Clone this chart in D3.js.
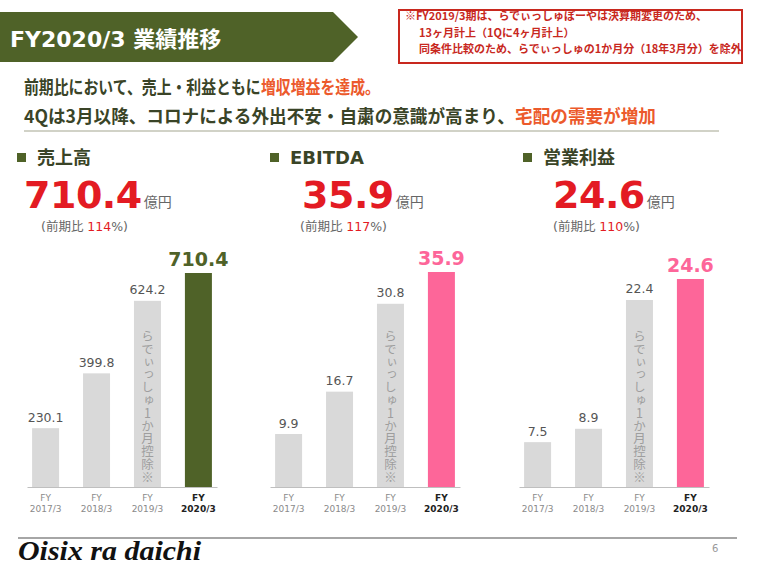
<!DOCTYPE html>
<html><head><meta charset="utf-8">
<script src="https://cdn.jsdelivr.net/npm/d3@7/dist/d3.min.js"></script>
<style>
html,body{margin:0;padding:0;background:#fff;}
svg{display:block;}
</style></head>
<body>
<svg id="chart" width="762" height="568"></svg>
<script>
// ---------- data ----------
const categoriesTop = ["FY", "FY", "FY", "FY"];
const categoriesYear = ["2017/3", "2018/3", "2019/3", "2020/3"];
const salesValues = [230.1, 399.8, 624.2, 710.4];
const ebitdaValues = [9.9, 16.7, 30.8, 35.9];
const opProfitValues = [7.5, 8.9, 22.4, 24.6];
const metricNames = ["売上高", "EBITDA", "営業利益"];
const headlineValues = ["710.4", "35.9", "24.6"];
const yoyRatios = ["114", "117", "110"];
const scaleFloors = [48, 1.4, 2.8];
const noteVertical = "らでぃっしゅ1か月控除※";
const titleText = "FY2020/3 業績推移";
const noteLines = ["※FY2019/3期は、らでぃっしゅぼーやは決算期変更のため、",
                   "13ヶ月計上（1Qに4ヶ月計上）",
                   "同条件比較のため、らでぃっしゅの1か月分（18年3月分）を除外"];
const subtitleLine1 = ["前期比において、売上・利益ともに", "増収増益を達成。"];
const subtitleLine2 = ["4Qは3月以降、コロナによる外出不安・自粛の意識が高まり、", "宅配の需要が増加"];

// ---------- drawing ----------
const svg = d3.select("#chart");
const LAT = "'DejaVu Sans','Noto Sans CJK JP',sans-serif";
const CJK = "'Noto Sans CJK JP','DejaVu Sans',sans-serif";
const olive = "#4f6228", pink = "#fd6699", textDark = "#3a4427", red = "#e31b23";

// title banner
svg.append("path")
  .attr("d", "M0,12 L333,12 L358,37 L333,62 L0,62 Z")
  .attr("fill", olive);
svg.append("text").attr("x", 10).attr("y", 47)
  .attr("fill", "#fff").attr("font-family", LAT).attr("font-weight", "bold")
  .attr("font-size", 22).text(titleText);

// note box
svg.append("rect").attr("x", 399).attr("y", 10).attr("width", 343).attr("height", 53)
  .attr("fill", "#fff").attr("stroke", "#c8281e").attr("stroke-width", 2);
noteLines.forEach((t, i) => {
  svg.append("text").attr("x", i === 0 ? 405 : 419).attr("y", 20 + i * 16.5)
    .attr("fill", "#c8281e").attr("font-family", CJK).attr("font-weight", "bold")
    .attr("font-size", 11).text(t);
});

// subtitle: two coloured parts per line, horizontally scaled to a target width
function fittedLine(parts, y, targetW) {
  const grp = svg.append("g");
  let x0 = 0;
  const els = parts.map((t, i) => {
    const e = grp.append("text").attr("x", x0).attr("y", 0)
      .attr("font-family", CJK).attr("font-weight", "bold").attr("font-size", 18)
      .attr("fill", i === 0 ? textDark : "#ec5a2c").text(t);
    x0 += e.node().getComputedTextLength();
    return e;
  });
  grp.attr("transform", `translate(24,${y}) scale(${targetW / x0},1)`);
}
fittedLine(subtitleLine1, 94, 356);
fittedLine(subtitleLine2, 123, 632);
svg.append("line").attr("x1", 24).attr("x2", 719).attr("y1", 131).attr("y2", 131)
  .attr("stroke", "#a3a58f").attr("stroke-width", 1);

// panels
const panels = [
  {values: salesValues, hx: 17, nx: 24, px: 41, cx: 0, hl: olive},
  {values: ebitdaValues, hx: 270, nx: 302, px: 300, cx: 243, hl: pink},
  {values: opProfitValues, hx: 523, nx: 553, px: 553, cx: 492, hl: pink}
];
const topY = [273, 272, 279];

panels.forEach((p, k) => {
  const g = svg.append("g");
  // header
  g.append("rect").attr("x", p.hx).attr("y", 153).attr("width", 9).attr("height", 9).attr("fill", olive);
  g.append("text").attr("x", p.hx + 20).attr("y", 164)
    .attr("font-family", LAT).attr("font-weight", "bold").attr("font-size", 18)
    .attr("fill", textDark).text(metricNames[k]);
  // headline number
  const hn = g.append("text").attr("x", p.nx).attr("y", 208)
    .attr("font-family", LAT).attr("font-weight", "bold").attr("font-size", 38).attr("fill", red)
    .attr("letter-spacing", -0.5)
    .text(headlineValues[k]);
  const w = hn.node().getComputedTextLength();
  g.append("text").attr("x", p.nx + w + 2).attr("y", 207)
    .attr("font-family", CJK).attr("font-size", 14).attr("fill", "#666").text("億円");
  const yy = g.append("text").attr("x", p.px).attr("y", 231)
    .attr("font-family", LAT).attr("font-size", 12.5).attr("fill", "#666");
  yy.append("tspan").text("(前期比 ");
  yy.append("tspan").attr("fill", red).text(yoyRatios[k]);
  yy.append("tspan").text("%)");

  // chart
  const x = d3.scaleBand().domain(categoriesYear).range([27 + p.cx, 217 + p.cx])
    .paddingInner(0.47).paddingOuter(0.1);
  const y = d3.scaleLinear().domain([scaleFloors[k], d3.max(p.values)]).range([487, topY[k]]);
  const last = p.values.length - 1;

  g.selectAll("rect.bar").data(p.values).join("rect").attr("class", "bar")
    .attr("x", (d, i) => x(categoriesYear[i]))
    .attr("width", x.bandwidth())
    .attr("y", d => y(d))
    .attr("height", d => 487 - y(d))
    .attr("fill", (d, i) => i === last ? p.hl : "#d9d9d9");

  // axis
  const axis = d3.axisBottom(x).tickSize(0).tickFormat("");
  const ag = g.append("g").attr("transform", "translate(0,487)").call(axis);
  ag.select(".domain").attr("stroke", "#bfbfbf").attr("stroke-width", 1);

  categoriesYear.forEach((c, i) => {
    const cxm = x(c) + x.bandwidth() / 2;
    const isLast = i === last;
    [categoriesTop[i], c].forEach((t, j) => {
      g.append("text").attr("x", cxm).attr("y", 501 + j * 11).attr("text-anchor", "middle")
        .attr("font-family", LAT).attr("font-size", 9)
        .attr("font-weight", isLast ? "bold" : "normal")
        .attr("fill", isLast ? "#222" : "#8a8a8a").text(t);
    });
  });

  // value labels
  p.values.forEach((v, i) => {
    const cxm = x(categoriesYear[i]) + x.bandwidth() / 2;
    if (i === last) {
      g.append("text").attr("x", cxm).attr("y", y(v) - 7).attr("text-anchor", "middle")
        .attr("font-family", LAT).attr("font-weight", "bold").attr("font-size", 19)
        .attr("fill", p.hl).text(d3.format(".1f")(v));
    } else {
      g.append("text").attr("x", cxm).attr("y", y(v) - 6.5).attr("text-anchor", "middle")
        .attr("font-family", LAT).attr("font-size", 12.5)
        .attr("fill", "#555").text(d3.format(".1f")(v));
    }
  });

  // vertical note in FY2019/3 bar
  const nb = x(categoriesYear[2]) + x.bandwidth() / 2;
  g.append("text").attr("x", nb).attr("y", 330)
    .attr("font-family", CJK).attr("font-size", 12.5).attr("fill", "#9e9e9e")
    .attr("letter-spacing", 0.3)
    .style("writing-mode", "vertical-rl").style("text-orientation", "upright")
    .text(noteVertical);
});

// footer
svg.append("line").attr("x1", 18).attr("x2", 737).attr("y1", 538).attr("y2", 538)
  .attr("stroke", "#a6a6a6").attr("stroke-width", 2);
svg.append("text").attr("x", 18).attr("y", 560)
  .attr("font-family", "'Liberation Serif','DejaVu Serif',serif").attr("font-style", "italic")
  .attr("font-weight", "bold").attr("font-size", 28).attr("fill", "#111")
  .attr("textLength", 183).attr("lengthAdjust", "spacingAndGlyphs").text("Oisix ra daichi");
svg.append("text").attr("x", 712).attr("y", 552).attr("font-family", LAT).attr("font-size", 10)
  .attr("fill", "#999").text("6");
</script>
</body></html>
